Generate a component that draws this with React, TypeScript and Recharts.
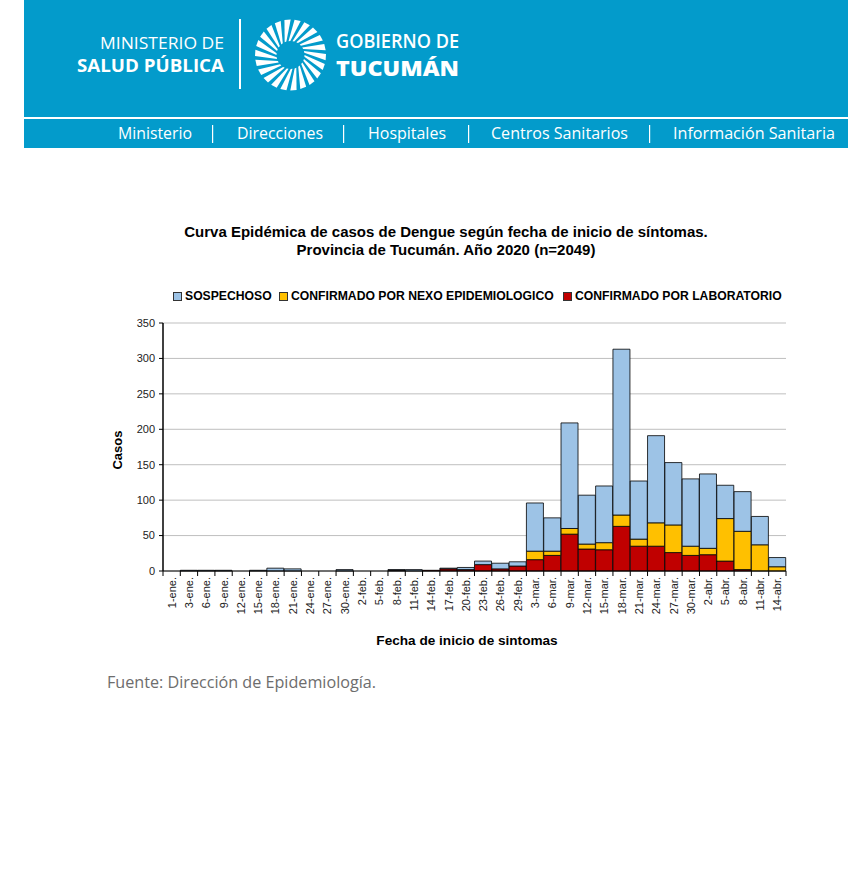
import React from 'react';
import { BarChart, Bar, XAxis, YAxis, CartesianGrid } from 'recharts';

const categories = ['1-ene.','3-ene.','6-ene.','9-ene.','12-ene.','15-ene.','18-ene.','21-ene.','24-ene.','27-ene.','30-ene.','2-feb.','5-feb.','8-feb.','11-feb.','14-feb.','17-feb.','20-feb.','23-feb.','26-feb.','29-feb.','3-mar.','6-mar.','9-mar.','12-mar.','15-mar.','18-mar.','21-mar.','24-mar.','27-mar.','30-mar.','2-abr.','5-abr.','8-abr.','11-abr.','14-abr.'];
const laboratorio = [0,0,0,0,0,0,0,0,0,0,0,0,0,1,0,1,3,2,9,3,7,16,22,52,31,30,63,35,35,26,22,23,14,2,0,0];
const nexo = [0,0,0,0,0,0,0,0,0,0,0,0,0,0,0,0,0,0,0,0,0,12,6,8,7,10,16,10,33,39,13,9,60,54,37,6];
const sospechoso = [0,1,1,1,0,1,4,3,0,0,2,0,0,1,2,0,1,3,5,8,6,68,47,149,69,80,234,82,123,88,95,105,47,56,40,13];
const yTicks = [0,50,100,150,200,250,300,350];

const seriesNames = {
  sospechoso: 'SOSPECHOSO',
  nexo: 'CONFIRMADO POR NEXO EPIDEMIOLOGICO',
  laboratorio: 'CONFIRMADO POR LABORATORIO',
};
const colors = { sospechoso: '#9DC3E6', nexo: '#FFC000', laboratorio: '#C00000' };

const titleLines = [
  'Curva Epidémica de casos de Dengue según fecha de inicio de síntomas.',
  'Provincia de Tucumán. Año 2020 (n=2049)',
];
const navItems = ['Ministerio', 'Direcciones', 'Hospitales', 'Centros Sanitarios', 'Información Sanitaria'];
const navX = [118, 237, 368, 491, 673];
const navW = [74, 86, 78, 137, 162];
const pipeX = [212, 343, 468, 649];

const data = categories.map((c, i) => ({
  fecha: c,
  laboratorio: laboratorio[i],
  nexo: nexo[i],
  sospechoso: sospechoso[i],
}));

const CHART_W = 720;
const CHART_H = 380;
const M = { top: 43, right: 24, bottom: 29, left: 28 };
const Y_W = 45;
const X_H = 60;
const PLOT_W = CHART_W - M.left - M.right - Y_W;
const BAND = PLOT_W / categories.length;
const ARIAL = '"Liberation Sans", Arial, Helvetica, sans-serif';
const BLUE = '#039BCB';

function XTick(props: any) {
  const { x, y, payload, index } = props;
  const last = index === categories.length - 1;
  return (
    <g>
      <line x1={x - BAND / 2} y1={y - 6} x2={x - BAND / 2} y2={y - 1} stroke="#000" strokeWidth={1} />
      {last && <line x1={x + BAND / 2} y1={y - 6} x2={x + BAND / 2} y2={y - 1} stroke="#000" strokeWidth={1} />}
      <text
        x={x}
        y={y}
        transform={`rotate(-90, ${x}, ${y})`}
        textAnchor="end"
        dominantBaseline="central"
        fontSize={11}
        fontFamily={ARIAL}
        fill="#222"
      >
        {payload.value}
      </text>
    </g>
  );
}

function Sunburst() {
  const cx = 290.5, cy = 55, r1 = 14, r2 = 35.5;
  const n = 22;
  const rays = [];
  for (let i = 0; i < n; i++) {
    const a = (i / n) * Math.PI * 2;
    const step = (Math.PI * 2) / n;
    const twist = step * 0.9;
    const a1 = a, a2 = a + step * 0.45;
    const b1 = a + twist, b2 = a + twist + step * 0.62;
    const p = (ang: number, r: number) => `${cx + r * Math.cos(ang)},${cy + r * Math.sin(ang)}`;
    rays.push(<polygon key={i} points={`${p(a1, r1)} ${p(b1, r2)} ${p(b2, r2)} ${p(a2, r1)}`} fill="#fff" />);
  }
  return <g>{rays}</g>;
}

function Header() {
  return (
    <svg width={864} height={150} style={{ position: 'absolute', left: 0, top: 0 }}>
      <rect x={24} y={0} width={824} height={117} fill={BLUE} />
      <rect x={24} y={119} width={824} height={29} fill={BLUE} />
      <g fill="#fff" fontFamily='"Open Sans", "Noto Sans", sans-serif'>
        <text x={224} y={49} fontSize={17} fontWeight={400} textAnchor="end" textLength={124} lengthAdjust="spacingAndGlyphs">MINISTERIO DE</text>
        <text x={224} y={72} fontSize={18.5} fontWeight={700} textAnchor="end" textLength={147} lengthAdjust="spacingAndGlyphs">SALUD PÚBLICA</text>
        <rect x={239} y={19} width={2} height={70} />
        <Sunburst />
        <circle cx={290.5} cy={55} r={13} fill={BLUE} />
        <text x={336} y={48} fontSize={19} fontWeight={600} textLength={123} lengthAdjust="spacingAndGlyphs">GOBIERNO DE</text>
        <text x={336} y={76} fontSize={21.5} fontWeight={800} textLength={123} lengthAdjust="spacingAndGlyphs">TUCUMÁN</text>
        {navItems.map((t, i) => (
          <text key={t} x={navX[i]} y={139} fontSize={15.5} textLength={navW[i]} lengthAdjust="spacingAndGlyphs">{t}</text>
        ))}
        {pipeX.map((x) => (
          <rect key={x} x={x} y={125} width={1.2} height={18} />
        ))}
      </g>
    </svg>
  );
}

function LegendRow() {
  const keys: Array<keyof typeof seriesNames> = ['sospechoso', 'nexo', 'laboratorio'];
  const xs = [173, 279, 563];
  return (
    <>
      {keys.map((k, i) => (
        <div key={k} style={{ position: 'absolute', left: xs[i], top: 289, display: 'flex', alignItems: 'center', whiteSpace: 'nowrap', fontFamily: ARIAL, fontWeight: 700, fontSize: 12.2, color: '#000', height: 14 }}>
          <span style={{ display: 'inline-block', width: 7, height: 7, background: colors[k], border: '1px solid #333', marginRight: 3 }} />
          <span>{seriesNames[k]}</span>
        </div>
      ))}
    </>
  );
}

export default function App() {
  return (
    <div style={{ position: 'absolute', left: 0, top: 0, width: 864, height: 872, background: '#fff', overflow: 'hidden' }}>
      <Header />
      <div style={{ position: 'absolute', left: 146, top: 223, width: 600, textAlign: 'center', fontFamily: ARIAL, fontWeight: 700, fontSize: 15, lineHeight: '18px', color: '#000' }}>
        {titleLines.map((l) => (<div key={l}>{l}</div>))}
      </div>
      <LegendRow />
      <div style={{ position: 'absolute', left: 90, top: 280 }}>
        <BarChart width={CHART_W} height={CHART_H} data={data} margin={M} barCategoryGap={0} barGap={0}>
          <CartesianGrid vertical={false} stroke="#BFBFBF" strokeWidth={1} />
          <XAxis
            dataKey="fecha"
            interval={0}
            height={X_H}
            tick={<XTick />}
            tickSize={5}
            tickMargin={1}
            tickLine={{ stroke: 'transparent' }}
            axisLine={{ stroke: '#000', strokeWidth: 1 }}
          />
          <YAxis
            width={Y_W}
            domain={[0, 350]}
            ticks={yTicks}
            tickSize={4}
            tickMargin={4}
            interval={0}
            tick={{ fontSize: 11, fontFamily: ARIAL, fill: '#222' }}
            tickLine={{ stroke: '#000' }}
            axisLine={{ stroke: '#000', strokeWidth: 1.5 }}
          />
          <YAxis
            yAxisId="right"
            orientation="right"
            width={0}
            domain={[0, 350]}
            tick={false}
            tickLine={false}
            axisLine={{ stroke: '#9a9a9a', strokeWidth: 1 }}
          />
          <Bar dataKey="laboratorio" stackId="a" fill={colors.laboratorio} stroke="#000" strokeWidth={0.8} isAnimationActive={false} />
          <Bar dataKey="nexo" stackId="a" fill={colors.nexo} stroke="#000" strokeWidth={0.8} isAnimationActive={false} />
          <Bar dataKey="sospechoso" stackId="a" fill={colors.sospechoso} stroke="#000" strokeWidth={0.8} isAnimationActive={false} />
        </BarChart>
      </div>
      <div style={{ position: 'absolute', left: 104, top: 440, width: 26, height: 20, fontFamily: ARIAL, fontWeight: 700, fontSize: 13, transform: 'rotate(-90deg)', transformOrigin: '13px 10px', display: 'flex', alignItems: 'center', justifyContent: 'center', whiteSpace: 'nowrap' }}>
        Casos
      </div>
      <div style={{ position: 'absolute', left: 267, top: 632, width: 400, textAlign: 'center', fontFamily: ARIAL, fontWeight: 700, fontSize: 13.6, lineHeight: '18px' }}>
        Fecha de inicio de sintomas
      </div>
      <svg width={400} height={30} style={{ position: 'absolute', left: 0, top: 668 }}>
        <text x={107} y={20} fontSize={16} fill="#6d6d6d" fontFamily='"Open Sans", "Noto Sans", sans-serif' textLength={269} lengthAdjust="spacingAndGlyphs">Fuente: Dirección de Epidemiología.</text>
      </svg>
    </div>
  );
}
